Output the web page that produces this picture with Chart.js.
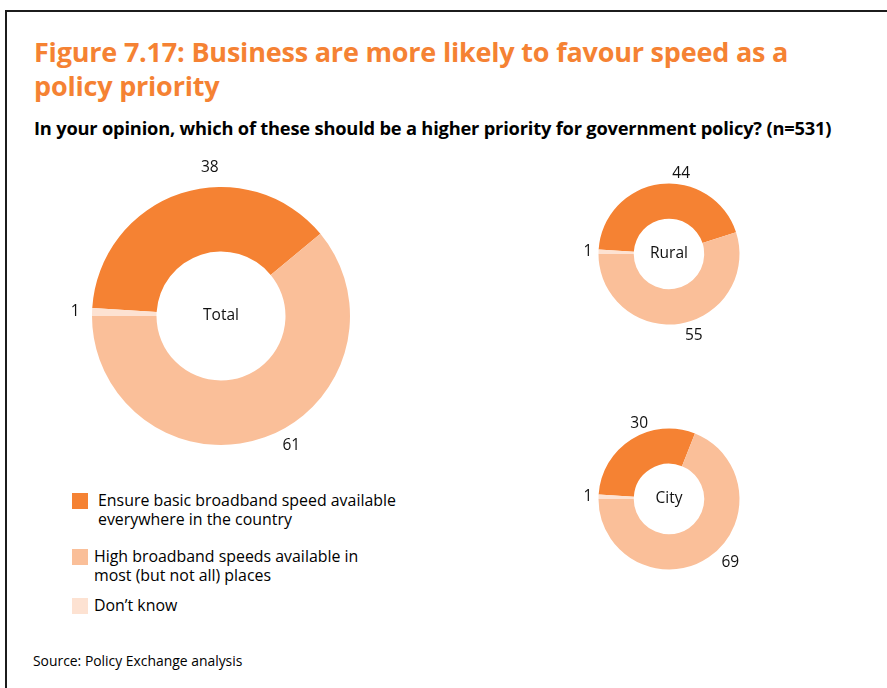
<!DOCTYPE html>
<html>
<head>
<meta charset="utf-8">
<title>Figure 7.17</title>
<script src="https://cdn.jsdelivr.net/npm/chart.js@4.4.1/dist/chart.umd.min.js"></script>
<style>
    body { margin: 0; background: #fff; font-family: "Open Sans", Lato, sans-serif; color: #000; }
    #page { position: relative; width: 887px; height: 688px; overflow: hidden; }
    .frame { position: absolute; left: 5px; top: 10px; right: 0; bottom: 0; border-top: 2px solid #1c1c1c; border-left: 2px solid #1c1c1c; }
    .title { position: absolute; left: 34px; top: 35px; margin: 0; font-size: 27px; line-height: 34px; font-weight: 700; color: #f58233; letter-spacing: -0.2px; }
    .subtitle { position: absolute; left: 34px; top: 117px; margin: 0; font-size: 18.3px; line-height: 22px; font-weight: 700; letter-spacing: -0.2px; }
    canvas { position: absolute; }
    .legend { position: absolute; left: 72px; top: 491px; }
    .legend-item { position: relative; font-size: 15.9px; line-height: 19px; }
    .legend-item:nth-child(1) { margin-bottom: 18px; }
    .legend-item:nth-child(2) { margin-bottom: 11px; }
    .legend-item .box { position: absolute; left: 0; top: 2px; width: 16px; height: 16px; }
    .legend-item .text { padding-left: 22px; }
    .legend-item:nth-child(1) .text { padding-left: 26px; }
    .source { position: absolute; left: 33px; top: 652px; font-size: 13.9px; line-height: 18px; }
</style>
</head>
<body>
<div id="page">
    <div class="frame"></div>
    <h1 class="title">Figure 7.17: Business are more likely to favour speed as a<br>policy priority</h1>
    <p class="subtitle">In your opinion, which of these should be a higher priority for government policy? (n=531)</p>
    <canvas id="totalChart" width="340" height="340" style="left:51px; top:146px"></canvas>
    <canvas id="ruralChart" width="200" height="200" style="left:569px; top:154px"></canvas>
    <canvas id="cityChart" width="200" height="200" style="left:569px; top:399px"></canvas>
    <div class="legend" id="legend"></div>
    <div class="source">Source: Policy Exchange analysis</div>
</div>

<script>
// Answer options (multi-line legend labels)
const categories = [
    ['Ensure basic broadband speed available', 'everywhere in the country'],
    ['High broadband speeds available in', 'most (but not all) places'],
    ['Don\u2019t know']
];

// Percentages per group
const totalValues = [38, 61, 1];
const ruralValues = [44, 55, 1];
const cityValues = [30, 69, 1];

const sliceColours = ['#f58233', '#fabf99', '#fde2d2'];

// Writes the numbers just outside each slice and the group name in the hole.
// `along` says where on each slice's arc the number sits (0 = start, 1 = end).
const sliceLabels = {
    id: 'sliceLabels',
    afterDraw(chart, args, opts) {
        const ctx = chart.ctx;
        const meta = chart.getDatasetMeta(0);
        const values = chart.data.datasets[0].data;
        ctx.save();
        ctx.fillStyle = '#111';
        ctx.textAlign = 'center';
        ctx.textBaseline = 'middle';
        ctx.font = '15.5px "Open Sans", Lato, sans-serif';
        meta.data.forEach((arc, i) => {
            const p = arc.getProps(['x', 'y', 'startAngle', 'endAngle', 'outerRadius'], true);
            const a = p.startAngle + (p.endAngle - p.startAngle) * opts.along[i];
            const r = p.outerRadius * opts.distance[i];
            ctx.fillText(values[i], p.x + Math.cos(a) * r, p.y + Math.sin(a) * r);
        });
        const first = meta.data[0];
        ctx.fillText(opts.name, first.x, first.y);
        ctx.restore();
    }
};

function makeDonut(id, name, values, padding, distance) {
    const sum = values.reduce((a, b) => a + b, 0);
    // "Don't know" slice sits just above the 9 o'clock line, the others follow clockwise
    const rotation = 270 + 360 * values[2] / sum;
    return new Chart(document.getElementById(id), {
        type: 'doughnut',
        data: {
            labels: categories,
            datasets: [{
                data: values,
                backgroundColor: sliceColours,
                borderWidth: 0
            }]
        },
        options: {
            responsive: false,
            animation: false,
            devicePixelRatio: 1,
            cutout: '50%',
            rotation: rotation,
            layout: { padding: padding },
            events: [],
            plugins: {
                legend: { display: false },
                tooltip: { enabled: false },
                sliceLabels: { name: name, distance: distance, along: [0.6, 0.46, 0.5] }
            }
        },
        plugins: [sliceLabels]
    });
}

makeDonut('totalChart', 'Total', totalValues, 41, [1.15, 1.14, 1.13]);
makeDonut('ruralChart', 'Rural', ruralValues, 29.5, [1.15, 1.21, 1.15]);
makeDonut('cityChart', 'City', cityValues, 29.5, [1.15, 1.25, 1.15]);

// Legend
const legend = document.getElementById('legend');
categories.forEach((lines, i) => {
    const item = document.createElement('div');
    item.className = 'legend-item';
    item.innerHTML = '<span class="box" style="background:' + sliceColours[i] + '"></span>' +
        '<div class="text">' + lines.join('<br>') + '</div>';
    legend.appendChild(item);
});
</script>
</body>
</html>
